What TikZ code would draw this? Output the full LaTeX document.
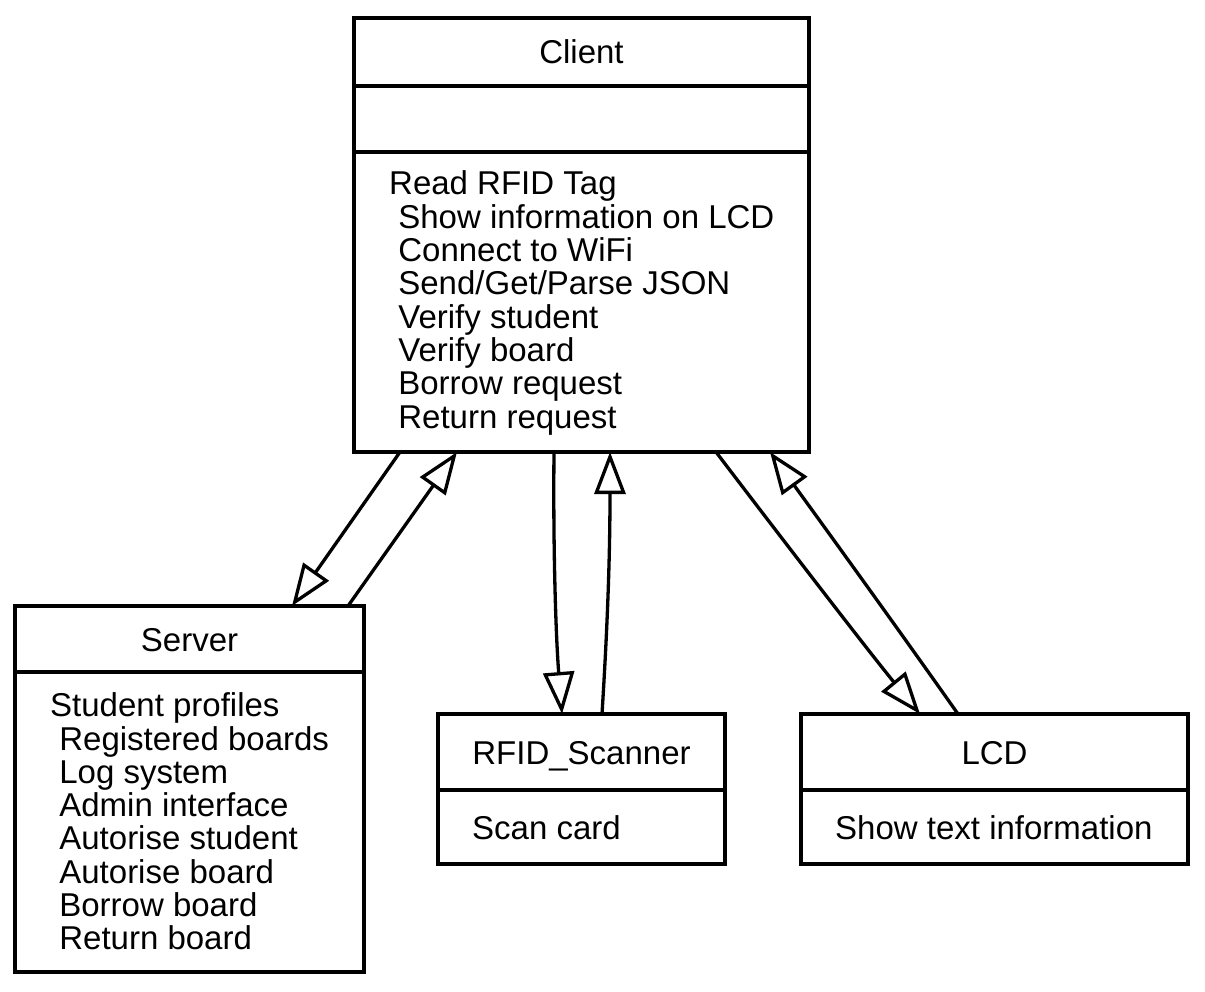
\documentclass[tikz,border=0pt]{standalone}
\usepackage{fontspec}
\setmainfont{Liberation Sans}
\usetikzlibrary{arrows.meta}
\newcommand{\opind}{\hspace*{.278em}}
\tikzset{
  classbox/.style={draw,line width=3.3pt,inner sep=0pt,outer sep=0pt},
  divider/.style={line width=3.3pt},
  txt/.style={font=\fontsize{33}{33.3}\selectfont,inner sep=0pt},
  inherit/.style={line width=3.3pt,-{Triangle[length=42pt,width=31pt,fill=white]}}
}
\begin{document}
\begin{tikzpicture}[x=1pt,y=-1pt]
  \useasboundingbox (0,0) rectangle (1205,992);
  % class boxes
  \node[classbox,minimum width=455pt,minimum height=434pt] (client) at (581.5,235) {};
  \node[classbox,minimum width=349pt,minimum height=366pt] (server) at (189.5,789) {};
  \node[classbox,minimum width=287pt,minimum height=150pt] (scanner) at (581.5,789) {};
  \node[classbox,minimum width=387pt,minimum height=150pt] (lcd) at (994.5,789) {};
  % compartments
  \draw[divider] ([yshift=-68pt]client.north west) -- ([yshift=-68pt]client.north east)
                 ([yshift=-134pt]client.north west) -- ([yshift=-134pt]client.north east);
  \draw[divider] ([yshift=-66pt]server.north west) -- ([yshift=-66pt]server.north east);
  \draw[divider] ([yshift=-76pt]scanner.north west) -- ([yshift=-76pt]scanner.north east);
  \draw[divider] ([yshift=-76pt]lcd.north west) -- ([yshift=-76pt]lcd.north east);
  % names
  \node[txt,anchor=base] (clientname) at (581.5,64) {Client};
  \node[txt,anchor=base] (servername) at (189.5,651) {Server};
  \node[txt,anchor=base] (scannername) at (581.5,764) {RFID\_Scanner};
  \node[txt,anchor=base] (lcdname) at (994.5,764) {LCD};
  % operations
  \node[txt,anchor=west,align=left] (clientops) at (389,303) {Read RFID Tag\\
    \opind Show information on LCD\\
    \opind Connect to WiFi\\
    \opind Send/Get/Parse JSON\\
    \opind Verify student\\
    \opind Verify board\\
    \opind Borrow request\\
    \opind Return request};
  \node[txt,anchor=west,align=left] (serverops) at (50,821.5) {Student profiles\\
    \opind Registered boards\\
    \opind Log system\\
    \opind Admin interface\\
    \opind Autorise student\\
    \opind Autorise board\\
    \opind Borrow board\\
    \opind Return board};
  \node[txt,anchor=base west] (scannerops) at (472,839) {Scan card};
  \node[txt,anchor=base west] (lcdops) at (835,839) {Show text information};
  % links
  \draw[inherit] ([xshift=46pt]client.south west) -- ([xshift=277pt]server.north west);
  \draw[inherit] ([xshift=333pt]server.north west) -- ([xshift=103pt]client.south west);
  \draw[inherit] ([xshift=200pt]client.south west) .. controls +(-1,100) and +(-6,-75) .. ([xshift=124pt]scanner.north west);
  \draw[inherit] ([xshift=164pt]scanner.north west) .. controls +(5,-80) and +(0,110) .. ([xshift=256pt]client.south west);
  \draw[inherit] ([xshift=362pt]client.south west) .. controls +(70,92) and +(-50,-61) .. ([xshift=119pt]lcd.north west);
  \draw[inherit] ([xshift=157pt]lcd.north west) .. controls +(-62,-88) and +(58,80) .. ([xshift=416pt]client.south west);
\end{tikzpicture}
\end{document}
